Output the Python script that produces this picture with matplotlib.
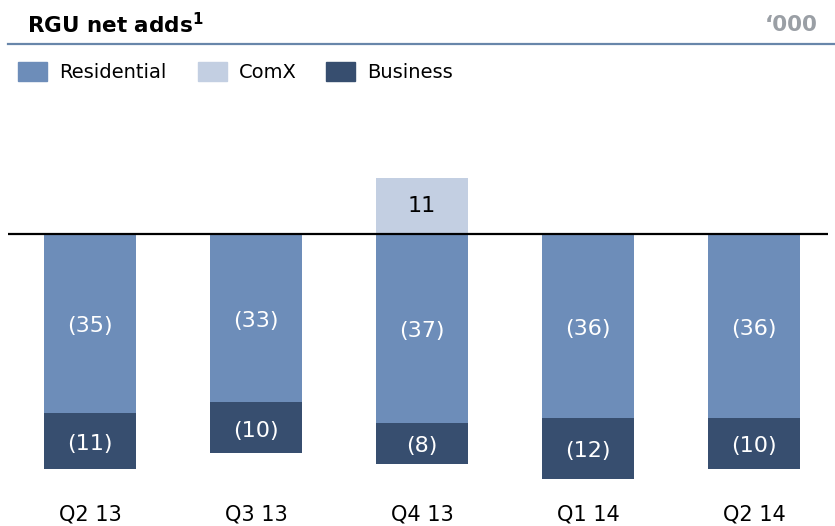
import matplotlib.pyplot as plt
import numpy as np

# Data ('000)
quarters = ["Q2 13", "Q3 13", "Q4 13", "Q1 14", "Q2 14"]
residential = [-35, -33, -37, -36, -36]
comx = [0, 0, 11, 0, 0]
business = [-11, -10, -8, -12, -10]

c_res = "#6d8db9"
c_comx = "#c3cfe2"
c_bus = "#374e6f"

W, H = 835, 526
fig = plt.figure(figsize=(W / 100, H / 100), dpi=100)

# header
fig.text(27 / W, 1 - 25 / H, "RGU net adds$^{\\mathbf{1}}$", fontsize=15.5,
         fontweight="bold", ha="left", va="center", color="black")
fig.text(818 / W, 1 - 25 / H, "\u2018000", fontsize=15.5, fontweight="bold",
         ha="right", va="center", color="#9a9fa5")
fig.add_artist(plt.Line2D([8 / W, 1], [1 - 44 / H, 1 - 44 / H],
                          color="#6886aa", lw=1.6))

# legend row
legend_items = [("Residential", c_res, 18), ("ComX", c_comx, 198), ("Business", c_bus, 326)]
for name, col, x0 in legend_items:
    fig.add_artist(plt.Rectangle((x0 / W, 1 - 81 / H), 29 / W, 19 / H,
                                 color=col, transform=fig.transFigure))
    fig.text((x0 + 41) / W, 1 - 72 / H, name, fontsize=14, ha="left",
             va="center", color="black")

# bar area
scale = 5.1  # px per unit
top_px, bot_px, zero_px = 150, 500, 234
ax = fig.add_axes([8 / W, 1 - bot_px / H, 820 / W, (bot_px - top_px) / H])
ax.set_ylim(-(bot_px - zero_px) / scale, (zero_px - top_px) / scale)
ax.set_xlim(-82 / 166, 4 + 74 / 166)

x = np.arange(len(quarters))
bw = 92 / 166
ax.bar(x, residential, bw, color=c_res, zorder=2)
ax.bar(x, business, bw, bottom=residential, color=c_bus, zorder=2)
ax.bar(x, comx, bw, color=c_comx, zorder=2)
ax.axhline(0, color="black", lw=1.6, zorder=3)

dy = 3 / scale  # labels sit slightly below centre
for i in range(len(quarters)):
    ax.text(x[i], residential[i] / 2 - dy, "(%d)" % -residential[i], ha="center",
            va="center", color="white", fontsize=16)
    ax.text(x[i], residential[i] + business[i] / 2 - dy, "(%d)" % -business[i],
            ha="center", va="center", color="white", fontsize=16)
    if comx[i] > 0:
        ax.text(x[i], comx[i] / 2, "%d" % comx[i], ha="center", va="center",
                color="black", fontsize=16)

ax.set_xticks(x)
ax.set_xticklabels(quarters, fontsize=15)
ax.tick_params(axis="x", length=0, pad=3)
ax.set_yticks([])
for s in ax.spines.values():
    s.set_visible(False)

fig.savefig("out.png", dpi=100)
